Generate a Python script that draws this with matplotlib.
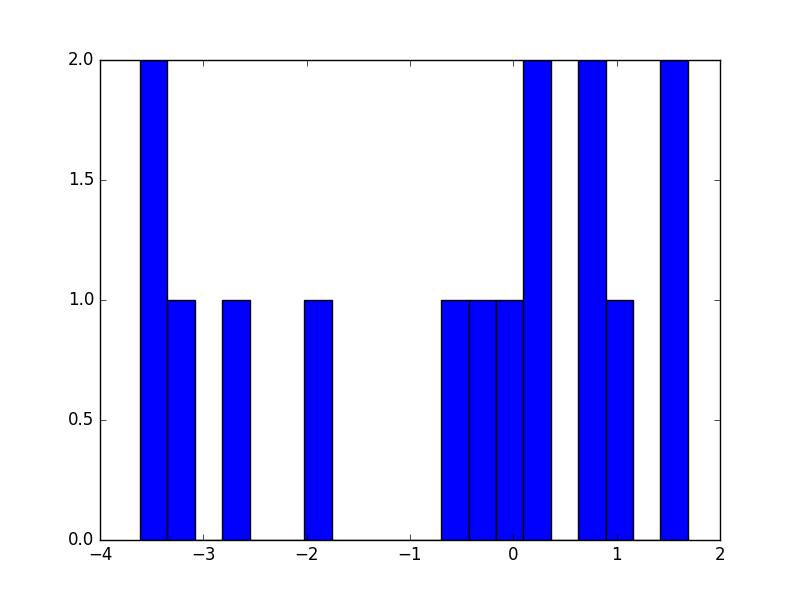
import matplotlib
matplotlib.use("Agg")
import matplotlib.pyplot as plt

# histogram bin edges and counts
bin_edges = [-3.613, -3.348, -3.083, -2.818, -2.553, -2.288, -2.023, -1.758,
             -1.493, -1.228, -0.963, -0.698, -0.433, -0.168, 0.097, 0.362,
             0.627, 0.892, 1.157, 1.422, 1.687]
counts = [2, 1, 0, 1, 0, 0, 1, 0, 0, 0, 0, 1, 1, 1, 2, 0, 2, 1, 0, 2]

plt.style.use('classic')

fig, ax = plt.subplots(figsize=(8, 6), dpi=100)
fig.patch.set_facecolor('white')

ax.hist(bin_edges[:-1], bins=bin_edges, weights=counts, color='b', edgecolor='k')

ax.set_xlim(-4, 2)
ax.set_ylim(0, 2)
ax.set_xticks([-4, -3, -2, -1, 0, 1, 2])
ax.set_yticks([0.0, 0.5, 1.0, 1.5, 2.0])

fig.savefig('out.png', dpi=100, facecolor='white')
